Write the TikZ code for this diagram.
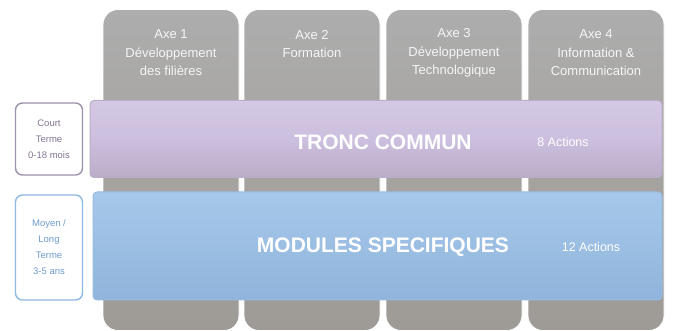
\documentclass[tikz,border=0pt]{standalone}
\usepackage{fontspec}
\setmainfont{Liberation Sans}
\usetikzlibrary{shadings}
\definecolor{colgray}{HTML}{ADADAD}
\definecolor{colgraydk}{HTML}{9E9A95}
\definecolor{purpl}{HTML}{CCBFDF}
\definecolor{purpldk}{HTML}{B9ADC8}
\definecolor{bluel}{HTML}{A6C8EA}
\definecolor{bluedk}{HTML}{90B4DB}
\definecolor{boxpur}{HTML}{857596}
\definecolor{boxblue}{HTML}{8FB8E2}
\definecolor{txtblue}{HTML}{6E9CD0}
\tikzset{
  colbox/.style={rounded corners=15pt, minimum width=136pt, minimum height=321pt,
    top color=colgray, bottom color=colgraydk, draw=white, line width=0.8pt},
  coltext/.style={align=center, text=white!93!gray, font=\fontsize{13}{18.5}\selectfont},
  band/.style={rounded corners=4pt, line width=1pt},
  bandtitle/.style={text=white, font=\fontsize{21}{24}\selectfont\bfseries},
  bandnote/.style={text=white, font=\fontsize{12.5}{14}\selectfont},
  sidebox/.style={rounded corners=7pt, line width=1.4pt, fill=white, minimum width=67pt,
    align=center, font=\fontsize{9.5}{16}\selectfont}
}
\begin{document}
\begin{tikzpicture}[x=1pt,y=-1pt]
\useasboundingbox[fill=white] (0,0) rectangle (673,331);
% columns
\node[colbox] (c1) at (171,170) {};
\node[colbox] (c2) at (312,170) {};
\node[colbox] (c3) at (454,170) {};
\node[colbox] (c4) at (596,170) {};
\node[coltext] (t1) at (171,53) {Axe 1\\Développement\\des filières};
\node[coltext] (t2) at (312,44) {Axe 2\\Formation};
\node[coltext] (t3) at (454,53) {Axe 3\\Développement\\Technologique};
\node[coltext] (t4) at (596,53) {Axe 4\\Information \&\\Communication};
% bands
\node[band, draw=purpldk, top color=purpl!85!white, bottom color=purpldk,
  middle color=purpl, minimum width=572pt, minimum height=77pt] (tronc) at (376,139) {};
\node[bandtitle] (tronct) at (383,142) {TRONC COMMUN};
\node[bandnote] (troncn) at (563,142) {8 Actions};
\node[band, draw=bluedk!90!white, top color=bluel, bottom color=bluedk,
  minimum width=569pt, minimum height=108pt] (mod) at (377.5,246) {};
\node[bandtitle] (modt) at (383,247) {MODULES SPECIFIQUES};
\node[bandnote] (modn) at (591,247) {12 Actions};
% side boxes
\node[sidebox, draw=boxpur!80!white, text=boxpur, minimum height=72pt] (ct) at (49,139)
  {Court\\Terme\\0-18 mois};
\node[sidebox, draw=boxblue, text=txtblue, minimum height=105pt] (lt) at (49,247.5)
  {Moyen /\\Long\\Terme\\3-5 ans};
\end{tikzpicture}
\end{document}
